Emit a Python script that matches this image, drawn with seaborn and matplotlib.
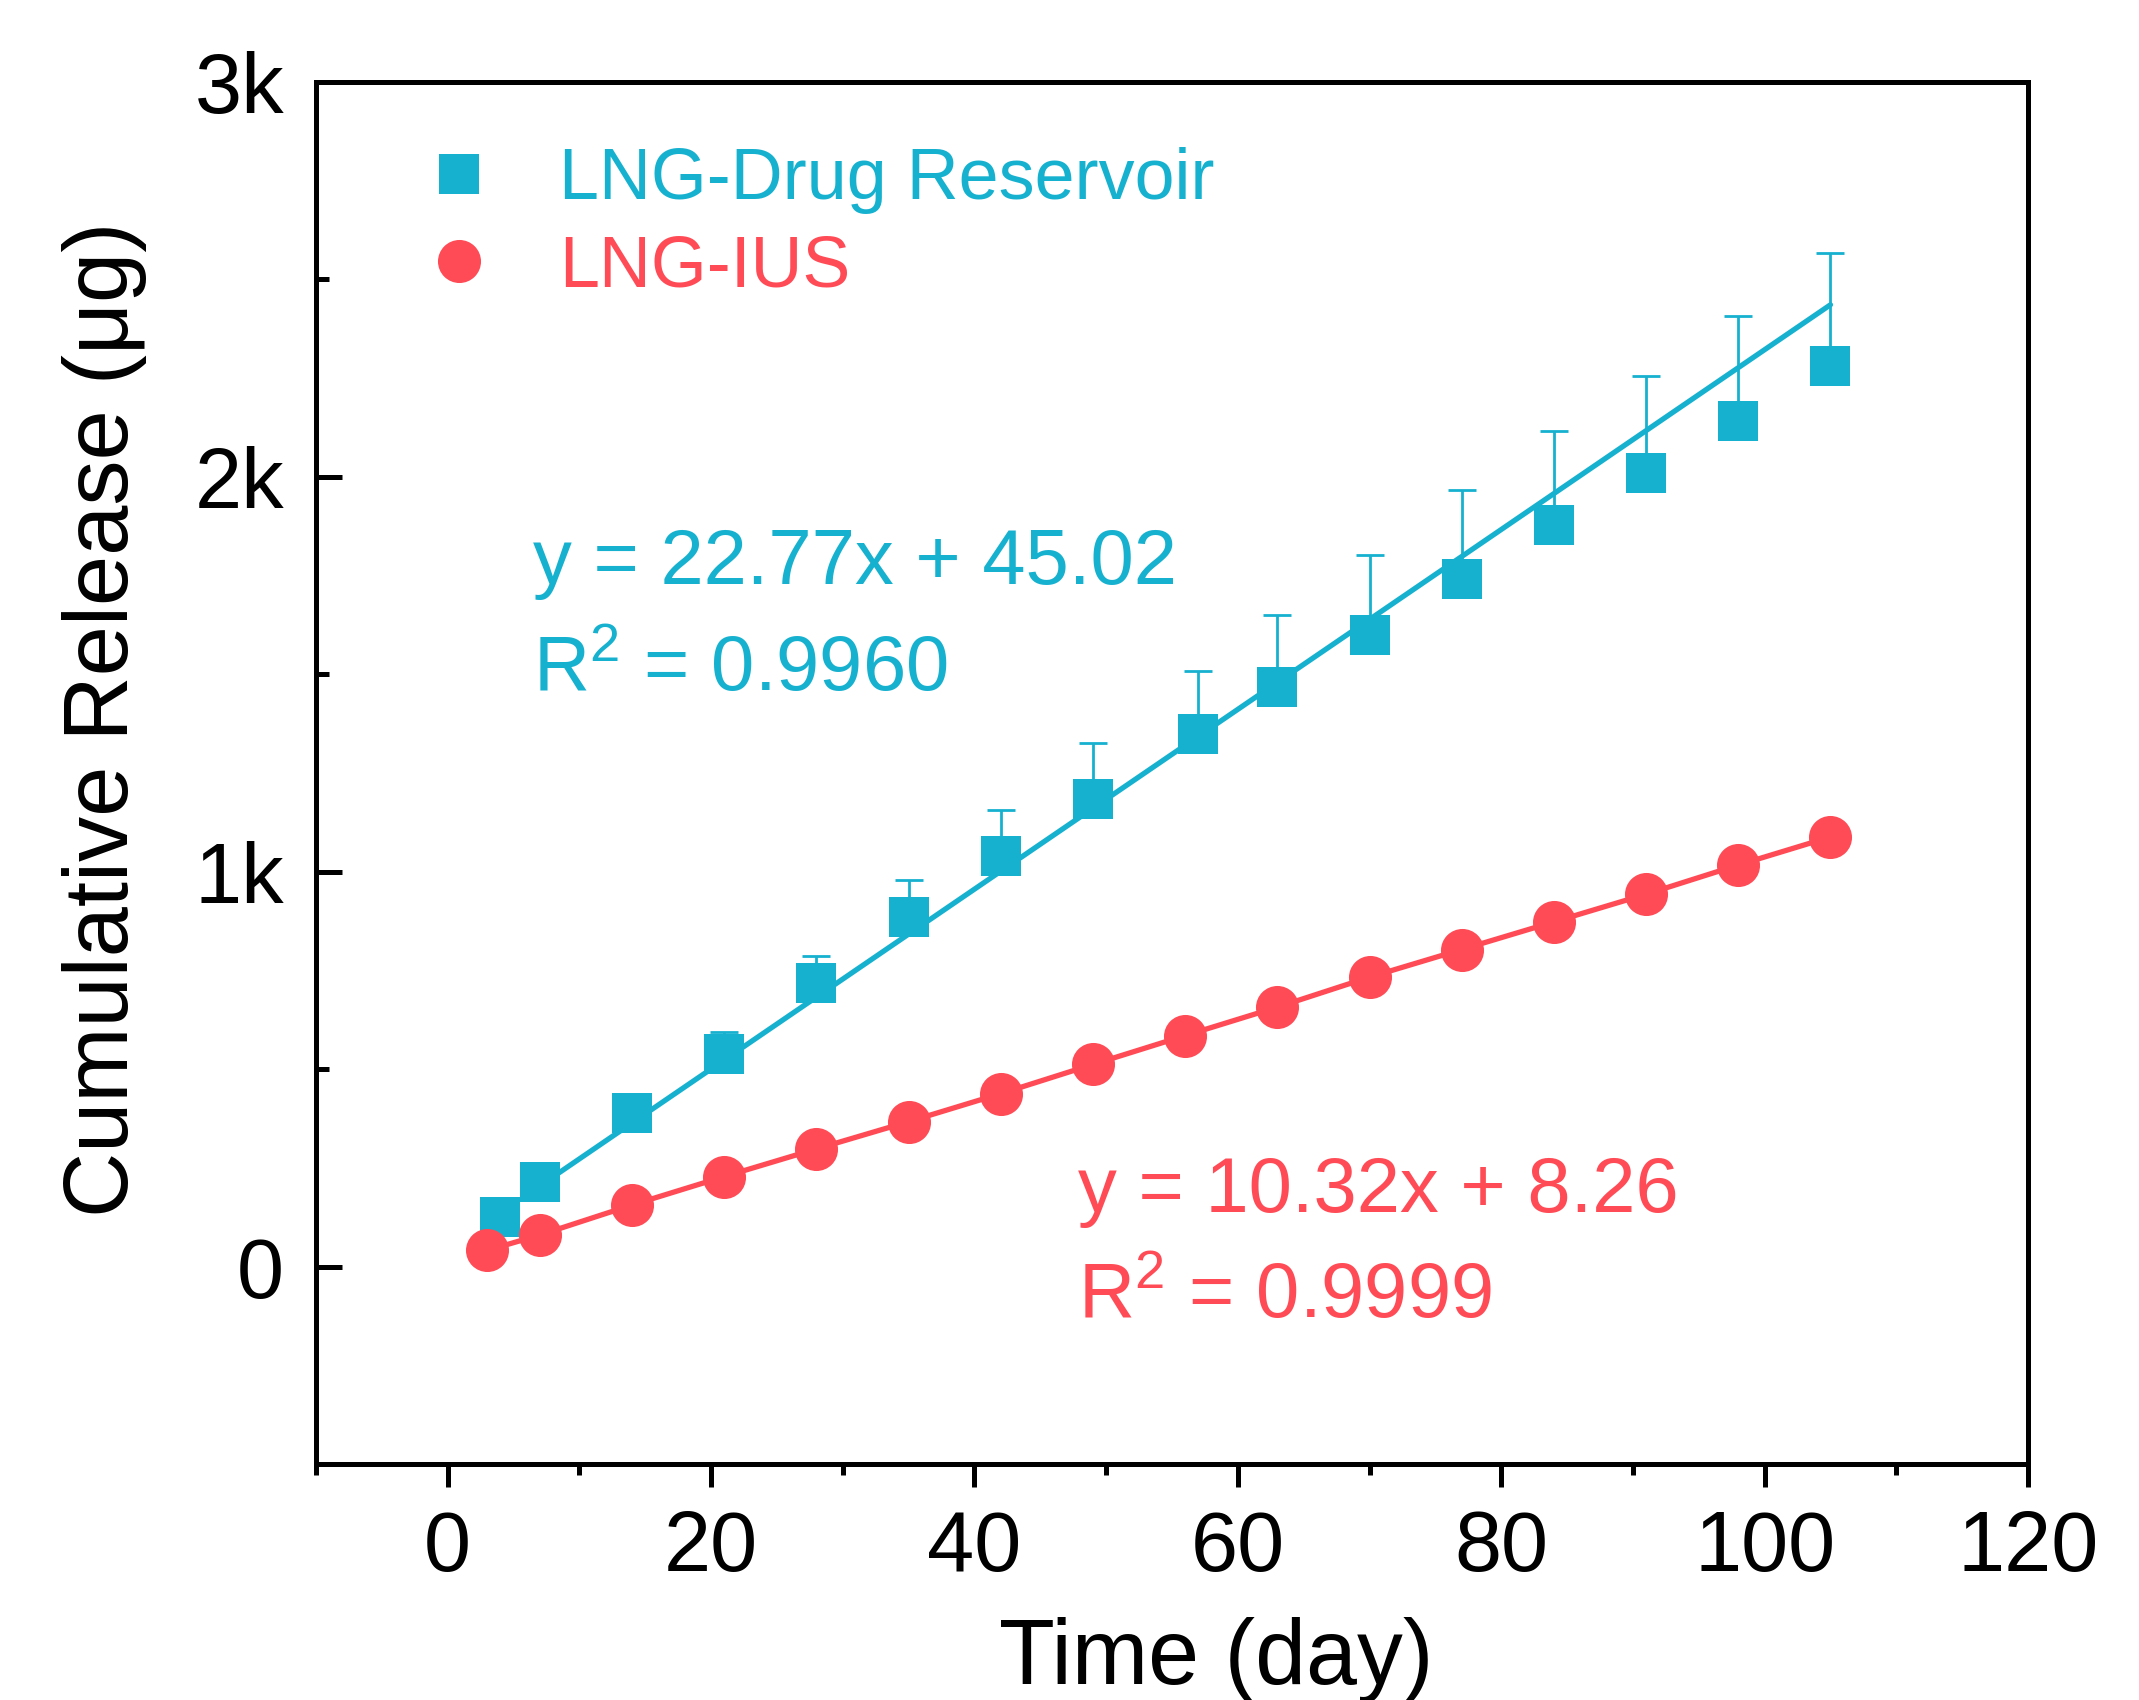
import numpy as np
import pandas as pd
import matplotlib
matplotlib.use("Agg")
import matplotlib.pyplot as plt
from matplotlib.ticker import MultipleLocator, FixedLocator, FixedFormatter
from matplotlib.lines import Line2D
import seaborn as sns

# ---------------- data ----------------
x_blue = [4, 7, 14, 21, 28, 35, 42, 49, 57, 63, 70, 77, 84, 91, 98, 105]
y_blue = [125, 214, 388, 538, 718, 886, 1041, 1185, 1348, 1467, 1599, 1741, 1878, 2010, 2142, 2280]
err_blue = [15, 25, 40, 57, 68, 92, 116, 140, 160, 182, 202, 225, 237, 246, 266, 286]

x_red = [3, 7, 14, 21, 28, 35, 42, 49, 56, 63, 70, 77, 84, 91, 98, 105]
y_red = [41, 80, 156, 228, 298, 367, 438, 512, 585, 657, 733, 803, 873, 943, 1017, 1088]

fit_blue = [22.77, 45.02]      # slope, intercept
fit_blue_range = [7, 105]
label_blue = "LNG-Drug Reservoir"
label_red = "LNG-IUS"
eq_blue = ["y = 22.77x + 45.02", "R$^{\\mathregular{2}}$ = 0.9960"]
eq_red = ["y = 10.32x + 8.26", "R$^{\\mathregular{2}}$ = 0.9999"]

x_ticks = [0, 20, 40, 60, 80, 100, 120]
y_ticks = [0, 1000, 2000, 3000]
y_tick_labels = ["0", "1k", "2k", "3k"]
x_label = "Time (day)"
y_label = "Cumulative Release (\u03bcg)"

BLUE = "#17B1D0"
RED = "#FF4B55"

# ---------------- style ----------------
sns.set_theme(style="ticks")
plt.rcParams["font.family"] = ["Liberation Sans", "DejaVu Sans"]
plt.rcParams["mathtext.fontset"] = "custom"
plt.rcParams["mathtext.rm"] = "Liberation Sans"
plt.rcParams["mathtext.it"] = "Liberation Sans:italic"
plt.rcParams["mathtext.bf"] = "Liberation Sans:bold"

fig = plt.figure(figsize=(2139 / 200, 1700 / 200), dpi=200)
ax = fig.add_axes([316 / 2139, (1700 - 1464) / 1700, (2028 - 316) / 2139, (1464 - 82) / 1700])

df_blue = pd.DataFrame({"x": x_blue, "y": y_blue, "err": err_blue})
df_red = pd.DataFrame({"x": x_red, "y": y_red})

# error bars (upper only)
ax.errorbar(df_blue["x"], df_blue["y"], yerr=[np.zeros(len(df_blue)), df_blue["err"]],
            fmt="none", ecolor=BLUE, elinewidth=1.0, capsize=4.9, capthick=1.0, zorder=2)

# blue linear fit line
fx = np.linspace(fit_blue_range[0], fit_blue_range[1], 50)
df_fit = pd.DataFrame({"x": fx, "y": np.polyval(fit_blue, fx)})
sns.lineplot(data=df_fit, x="x", y="y", ax=ax, color=BLUE, linewidth=1.9, zorder=3)

# red line through points
sns.lineplot(data=df_red, x="x", y="y", ax=ax, color=RED, linewidth=1.9, zorder=3,
             estimator=None, sort=False)

# markers
sns.scatterplot(data=df_blue, x="x", y="y", ax=ax, marker="s", s=14.4 ** 2,
                color=BLUE, linewidth=0, zorder=4)
sns.scatterplot(data=df_red, x="x", y="y", ax=ax, marker="o", s=15.5 ** 2,
                color=RED, linewidth=0, zorder=4)

# axes limits & ticks
ax.set_xlim(-10, 120)
ax.set_ylim(-500, 3000)
ax.xaxis.set_major_locator(FixedLocator(x_ticks))
ax.xaxis.set_minor_locator(MultipleLocator(10))
ax.yaxis.set_major_locator(FixedLocator(y_ticks))
ax.yaxis.set_major_formatter(FixedFormatter(y_tick_labels))
ax.yaxis.set_minor_locator(MultipleLocator(500))

for sp in ax.spines.values():
    sp.set_visible(True)
    sp.set_linewidth(1.8)
    sp.set_color("black")

ax.tick_params(axis="x", which="both", direction="out", bottom=True, top=False,
               width=1.8, labelsize=30.5, pad=8, colors="black")
ax.tick_params(axis="x", which="major", length=8.3)
ax.tick_params(axis="x", which="minor", length=4.0)
ax.tick_params(axis="y", which="both", direction="in", left=True, right=False,
               width=1.8, labelsize=30.5, pad=11.5, colors="black")
ax.tick_params(axis="y", which="major", length=9.4)
ax.tick_params(axis="y", which="minor", length=4.7)

ax.set_xlabel(x_label, fontsize=33, color="black")
ax.set_ylabel(y_label, fontsize=32.5, color="black")
ax.xaxis.set_label_coords(0.526, -0.111)
ax.yaxis.set_label_coords(-0.099, 0.539)

# legend
handles = [
    Line2D([], [], linestyle="none", marker="s", markersize=14.4, color=BLUE, markeredgewidth=0),
    Line2D([], [], linestyle="none", marker="o", markersize=15.5, color=RED, markeredgewidth=0),
]
leg = ax.legend(handles, [label_blue, label_red], loc="upper left",
                bbox_to_anchor=(0.0623, 0.953), frameon=False, fontsize=25.9,
                handlelength=1.0, handletextpad=0.9, borderpad=0, borderaxespad=0,
                labelspacing=0.28)
for t, c in zip(leg.get_texts(), [BLUE, RED]):
    t.set_color(c)

# equations
ax.text(6.5, 1728, eq_blue[0], color=BLUE, fontsize=28, ha="left", va="baseline")
ax.text(6.5, 1457, eq_blue[1], color=BLUE, fontsize=28, ha="left", va="baseline")
ax.text(47.9, 137, eq_red[0], color=RED, fontsize=28, ha="left", va="baseline")
ax.text(47.9, -129, eq_red[1], color=RED, fontsize=28, ha="left", va="baseline")

fig.savefig("out.png", dpi=200, facecolor="white")
